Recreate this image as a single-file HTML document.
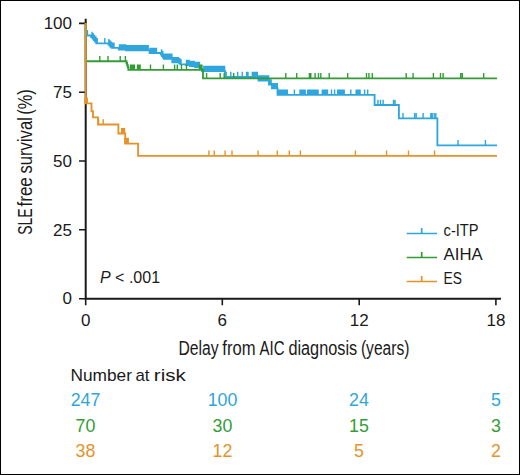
<!DOCTYPE html>
<html><head><meta charset="utf-8"><style>
html,body{margin:0;padding:0;background:#fff;width:520px;height:475px;overflow:hidden}
svg{display:block}
text{font-family:"Liberation Sans",sans-serif}
</style></head><body>
<svg width="520" height="475" viewBox="0 0 520 475">
<rect x="0.5" y="0.5" width="519" height="474" fill="#fff" stroke="#000" stroke-width="1"/>
<g font-family="Liberation Sans, sans-serif">
<!-- axes -->
<g stroke="#1a1a1a" fill="none">
<path d="M85.7,18.8 V299.7 M84.7,298.7 H501" stroke-width="2"/>
<path d="M79,23.4 H85 M79,92.2 H85 M79,161 H85 M79,229.8 H85 M79,298.7 H85 M85.7,299 V305.2 M222.3,299 V305.2 M359.2,299 V305.2 M495.9,299 V305.2" stroke-width="1.6"/>
</g>
<g font-size="17" fill="#1a1a1a" text-anchor="end">
<text x="72" y="29">100</text>
<text x="72" y="98">75</text>
<text x="72" y="167">50</text>
<text x="72" y="236">25</text>
<text x="72" y="304">0</text>
</g>
<g font-size="17" fill="#1a1a1a" text-anchor="middle">
<text x="85.7" y="326.2">0</text>
<text x="222.3" y="326.2">6</text>
<text x="359.2" y="326.2">12</text>
<text x="495.9" y="326.2">18</text>
</g>
<g font-size="20" fill="#1a1a1a">
<text x="178.4" y="355" textLength="40.2" lengthAdjust="spacingAndGlyphs">Delay</text>
<text x="222.3" y="355" textLength="33.2" lengthAdjust="spacingAndGlyphs">from</text>
<text x="259.5" y="355" textLength="25" lengthAdjust="spacingAndGlyphs">AIC</text>
<text x="288.4" y="355" textLength="68.8" lengthAdjust="spacingAndGlyphs">diagnosis</text>
<text x="360.9" y="355" textLength="48.5" lengthAdjust="spacingAndGlyphs">(years)</text>
</g>
<g transform="translate(31.8,233.5) rotate(-90)" font-size="20" fill="#1a1a1a">
<text x="-1.2" y="0" textLength="26.3" lengthAdjust="spacingAndGlyphs">SLE</text>
<text x="27.0" y="0" textLength="29.3" lengthAdjust="spacingAndGlyphs">free</text>
<text x="59.9" y="0" textLength="56.5" lengthAdjust="spacingAndGlyphs">survival</text>
<text x="118.8" y="0" textLength="25.5" lengthAdjust="spacingAndGlyphs">(%)</text>
</g>
<text x="100" y="283" font-size="16" fill="#1a1a1a"><tspan font-style="italic">P</tspan> &lt; .001</text>
<!-- curves -->
<g fill="none" stroke-width="1.85" stroke-linejoin="miter">
<path d="M85.7,23 V31 H87.2 V35.5 H91.2 V37 H92.5 V38.5 H93.8 V40 H95 V41.5 H96.3 V43.3 H108.4 V44.4 H109.4 V45.6 H110.5 V46.8 H111.6 V47.8 H118.8 V49.5 H126 V50.3 H149.6 V53 H161 V54.5 H162 V56 H163 V57.5 H164 V58.7 H172.3 V62.2 H179.2 V63.4 H180.4 V64.3 H186 V65 H190 V66 H195 V67 H199.6 V69 H202 V71 H225 V77 H258.5 V80.6 H269 V84.5 H272 V88.2 H277.5 V94.8 H374.6 V105 H398.9 V118.4 H437.4 V145.3 H497" stroke="#2fa6dd"/>
<path d="M92.0,37.0v-5.3 M93.3,38.5v-5.3 M94.6,40.0v-5.3 M95.9,41.5v-5.3 M97.2,43.3v-5.3 M104.8,43.3v-5.3 M108.8,44.4v-5.3 M110.1,45.6v-5.3 M111.4,46.8v-5.3 M112.7,47.8v-5.3 M114.0,47.8v-5.3 M119.5,49.5v-5.3 M120.8,49.5v-5.3 M122.0,49.5v-5.3 M123.2,49.5v-5.3 M124.5,49.5v-5.3 M125.8,49.5v-5.3 M127.0,50.3v-5.3 M128.2,50.3v-5.3 M129.5,50.3v-5.3 M130.8,50.3v-5.3 M132.0,50.3v-5.3 M133.2,50.3v-5.3 M134.5,50.3v-5.3 M135.8,50.3v-5.3 M137.0,50.3v-5.3 M138.2,50.3v-5.3 M139.5,50.3v-5.3 M140.8,50.3v-5.3 M142.0,50.3v-5.3 M143.2,50.3v-5.3 M144.5,50.3v-5.3 M145.8,50.3v-5.3 M147.0,50.3v-5.3 M148.2,50.3v-5.3 M150.0,53.0v-5.3 M151.3,53.0v-5.3 M152.6,53.0v-5.3 M153.9,53.0v-5.3 M155.2,53.0v-5.3 M156.5,53.0v-5.3 M161.5,54.5v-5.3 M162.8,56.0v-5.3 M164.1,58.7v-5.3 M165.4,58.7v-5.3 M166.7,58.7v-5.3 M168.0,58.7v-5.3 M169.3,58.7v-5.3 M170.6,58.7v-5.3 M171.9,58.7v-5.3 M173.2,62.2v-5.3 M174.5,62.2v-5.3 M175.8,62.2v-5.3 M177.1,62.2v-5.3 M178.4,62.2v-5.3 M179.7,63.4v-5.3 M181.0,64.3v-5.3 M186.5,65.0v-5.3 M187.8,65.0v-5.3 M189.1,65.0v-5.3 M190.4,66.0v-5.3 M191.7,66.0v-5.3 M193.0,66.0v-5.3 M194.3,66.0v-5.3 M195.6,67.0v-5.3 M196.9,67.0v-5.3 M198.2,67.0v-5.3 M199.5,67.0v-5.3 M203.8,71.0v-5.3 M205.1,71.0v-5.3 M206.4,71.0v-5.3 M207.7,71.0v-5.3 M209.0,71.0v-5.3 M210.3,71.0v-5.3 M211.6,71.0v-5.3 M212.9,71.0v-5.3 M214.2,71.0v-5.3 M215.5,71.0v-5.3 M216.8,71.0v-5.3 M218.1,71.0v-5.3 M219.4,71.0v-5.3 M220.7,71.0v-5.3 M222.0,71.0v-5.3 M223.3,71.0v-5.3 M224.6,71.0v-5.3 M226.2,77.0v-5.3 M230.8,77.0v-5.3 M237.7,77.0v-5.3 M242.3,77.0v-5.3 M246.6,77.0v-5.3 M248.0,77.0v-5.3 M252.3,77.0v-5.3 M253.6,77.0v-5.3 M254.8,77.0v-5.3 M256.1,77.0v-5.3 M257.3,77.0v-5.3 M258.6,80.6v-5.3 M259.8,80.6v-5.3 M261.1,80.6v-5.3 M262.3,80.6v-5.3 M263.6,80.6v-5.3 M264.8,80.6v-5.3 M266.1,80.6v-5.3 M267.3,80.6v-5.3 M268.6,80.6v-5.3 M269.8,84.5v-5.3 M271.1,84.5v-5.3 M272.3,88.2v-5.3 M273.6,88.2v-5.3 M274.8,88.2v-5.3 M276.1,88.2v-5.3 M277.3,88.2v-5.3 M278.6,94.8v-5.3 M279.8,94.8v-5.3 M281.1,94.8v-5.3 M282.3,94.8v-5.3 M283.6,94.8v-5.3 M284.8,94.8v-5.3 M286.1,94.8v-5.3 M287.3,94.8v-5.3 M294.4,94.8v-5.3 M300.0,94.8v-5.3 M301.3,94.8v-5.3 M302.6,94.8v-5.3 M303.9,94.8v-5.3 M305.2,94.8v-5.3 M307.7,94.8v-5.3 M309.0,94.8v-5.3 M310.3,94.8v-5.3 M311.6,94.8v-5.3 M312.9,94.8v-5.3 M314.2,94.8v-5.3 M315.5,94.8v-5.3 M316.8,94.8v-5.3 M318.1,94.8v-5.3 M322.3,94.8v-5.3 M323.6,94.8v-5.3 M324.9,94.8v-5.3 M326.2,94.8v-5.3 M327.5,94.8v-5.3 M331.5,94.8v-5.3 M334.6,94.8v-5.3 M337.7,94.8v-5.3 M339.0,94.8v-5.3 M340.3,94.8v-5.3 M341.6,94.8v-5.3 M342.9,94.8v-5.3 M344.2,94.8v-5.3 M350.8,94.8v-5.3 M356.2,94.8v-5.3 M357.5,94.8v-5.3 M358.8,94.8v-5.3 M360.1,94.8v-5.3 M364.6,94.8v-5.3 M367.7,94.8v-5.3 M378.0,105.0v-5.3 M380.5,105.0v-5.3 M383.1,105.0v-5.3 M393.5,105.0v-5.3 M395.0,105.0v-5.3 M403.0,118.4v-5.3 M414.6,118.4v-5.3 M416.2,118.4v-5.3 M423.1,118.4v-5.3 M430.8,118.4v-5.3 M432.2,118.4v-5.3 M434.2,118.4v-5.3 M435.8,118.4v-5.3 M458.0,145.3v-5.3 M485.4,145.3v-5.3" stroke="#2fa6dd" stroke-width="1.4"/>
<path d="M85.7,23 V61.2 H126.5 V63 H127.1 V65 H127.7 V67 H128.3 V69.8 H203 V78.4 H497" stroke="#339c37"/>
<path d="M99.8,61.2v-5.3 M108.0,61.2v-5.3 M120.2,61.2v-5.3 M125.4,61.2v-5.3 M130.5,69.8v-5.3 M131.8,69.8v-5.3 M133.1,69.8v-5.3 M134.4,69.8v-5.3 M137.5,69.8v-5.3 M138.8,69.8v-5.3 M140.1,69.8v-5.3 M150.5,69.8v-5.3 M163.4,69.8v-5.3 M174.6,69.8v-5.3 M177.3,69.8v-5.3 M181.5,69.8v-5.3 M186.5,69.8v-5.3 M199.5,69.8v-5.3 M200.7,69.8v-5.3 M201.9,69.8v-5.3 M206.6,78.4v-5.3 M220.2,78.4v-5.3 M224.2,78.4v-5.3 M233.7,78.4v-5.3 M285.8,78.4v-5.3 M296.7,78.4v-5.3 M309.4,78.4v-5.3 M310.8,78.4v-5.3 M315.1,78.4v-5.3 M318.5,78.4v-5.3 M320.8,78.4v-5.3 M329.2,78.4v-5.3 M347.7,78.4v-5.3 M366.5,78.4v-5.3 M368.9,78.4v-5.3 M372.3,78.4v-5.3 M406.2,78.4v-5.3 M413.1,78.4v-5.3 M433.4,78.4v-5.3 M440.5,78.4v-5.3 M443.1,78.4v-5.3 M460.7,78.4v-5.3 M462.3,78.4v-5.3 M483.7,78.4v-5.3" stroke="#339c37" stroke-width="1.4"/>
<path d="M85.7,23 V103.4 H91.5 V111.2 H93 V117.3 H98 V124.5 H118.4 V133.5 H125.2 V143.6 H138.1 V155.8 H497" stroke="#e5922b"/>
<path d="M98.5,124.5v-5.3 M103.2,124.5v-5.3 M208.9,155.8v-5.3 M214.2,155.8v-5.3 M225.1,155.8v-5.3 M232.0,155.8v-5.3 M258.1,155.8v-5.3 M277.3,155.8v-5.3 M289.3,155.8v-5.3 M300.4,155.8v-5.3 M355.4,155.8v-5.3 M386.6,155.8v-5.3 M408.5,155.8v-5.3 M434.6,155.8v-5.3" stroke="#e5922b" stroke-width="1.4"/>
<g fill="#e5922b" stroke="none">
<rect x="84.5" y="97.6" width="3.5" height="6"/>
<rect x="121" y="128" width="4.2" height="5.5"/>
<rect x="124.2" y="137.8" width="4.7" height="5.8"/>
</g>
</g>
<!-- legend -->
<g stroke-width="1.7">
<path d="M406.7,233.5 H437 M421.7,233.5 V228" stroke="#2fa6dd"/>
<path d="M406.7,257.5 H437 M421.7,257.5 V252" stroke="#339c37"/>
<path d="M406.7,281.5 H437 M421.7,281.5 V276" stroke="#e5922b"/>
</g>
<g font-size="15.8" fill="#1a1a1a">
<text x="443.6" y="236.1" textLength="35" lengthAdjust="spacingAndGlyphs">c-ITP</text>
<text x="443.6" y="260.1" textLength="39" lengthAdjust="spacingAndGlyphs">AIHA</text>
<text x="443.6" y="284.1" textLength="18.4" lengthAdjust="spacingAndGlyphs">ES</text>
</g>
<!-- risk table -->
<g font-size="16.4" fill="#1a1a1a">
<text x="70.5" y="380.8" textLength="61.5" lengthAdjust="spacingAndGlyphs">Number</text>
<text x="135.5" y="380.8" textLength="14" lengthAdjust="spacingAndGlyphs">at</text>
<text x="153.8" y="380.8" textLength="32" lengthAdjust="spacingAndGlyphs">risk</text>
</g>
<g font-size="17.8" text-anchor="middle">
<g fill="#2fa6dd"><text x="85.5" y="405.8">247</text><text x="222.5" y="405.8">100</text><text x="359" y="405.8">24</text><text x="496" y="405.8">5</text></g>
<g fill="#339c37"><text x="85.5" y="431.9">70</text><text x="222.5" y="431.9">30</text><text x="359" y="431.9">15</text><text x="496" y="431.9">3</text></g>
<g fill="#e5922b"><text x="85.5" y="456.8">38</text><text x="222.5" y="456.8">12</text><text x="359" y="456.8">5</text><text x="496" y="456.8">2</text></g>
</g>
</g>
</svg>
</body></html>
